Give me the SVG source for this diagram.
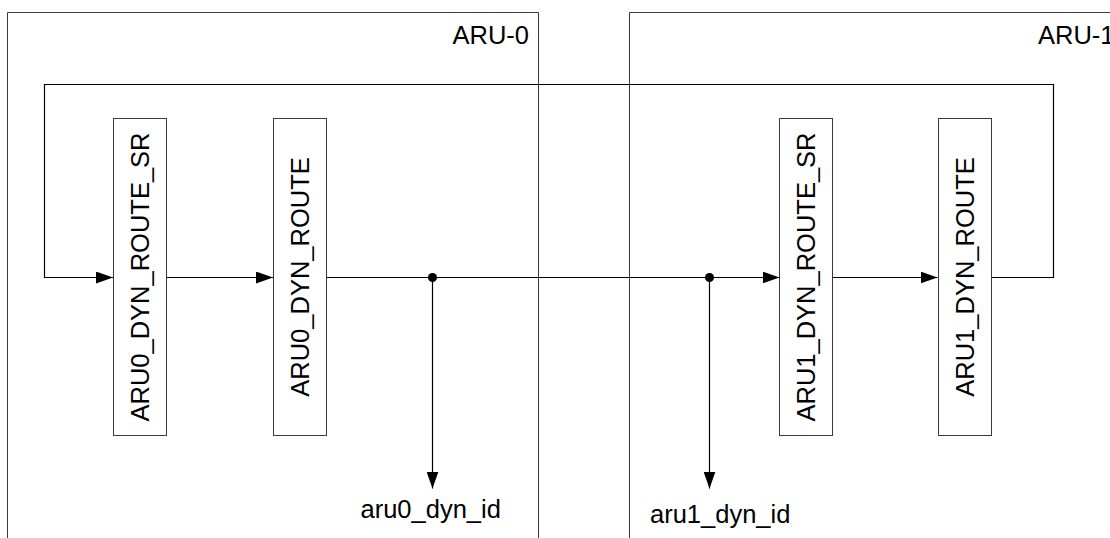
<svg xmlns="http://www.w3.org/2000/svg" width="1110" height="538" viewBox="0 0 1110 538">
  <style>
    .frame { fill: none; stroke: #3a3a3a; stroke-width: 1; }
    .blk { fill: #ffffff; stroke: #3a3a3a; stroke-width: 1; }
    .wire { fill: none; stroke: #000000; stroke-width: 1.2; }
    .lbl { font-family: "Liberation Sans", Arial, sans-serif; font-size: 25.5px; fill: #000000; }
    .vlbl { font-family: "Liberation Sans", Arial, sans-serif; font-size: 25.5px; fill: #000000; text-anchor: middle; }
  </style>
  <defs>
    <marker id="arrow" viewBox="0 0 17 12" refX="17" refY="6" markerWidth="17" markerHeight="12" markerUnits="userSpaceOnUse" orient="auto">
      <path d="M0,0 L17,6 L0,12 Z" fill="#000000"/>
    </marker>
  </defs>
  <rect width="1110" height="538" fill="#ffffff"/>

  <!-- unit frames, open at the bottom -->
  <g id="aru0">
    <path class="frame" d="M7.5,538 V12.5 H538.5 V538"/>
    <text class="lbl" x="529" y="44" text-anchor="end">ARU-0</text>
  </g>
  <g id="aru1">
    <path class="frame" d="M629.5,538 V12.5 H1112"/>
    <text class="lbl" x="1038" y="44">ARU-1</text>
  </g>

  <!-- connectors -->
  <g id="connectors">
    <path class="wire" d="M991.5,277.5 H1053.5 V84.5 H44.5 V277.5 H113" marker-end="url(#arrow)"/>
    <path class="wire" d="M166.5,277.5 H273" marker-end="url(#arrow)"/>
    <path class="wire" d="M326.5,277.5 H779.5" marker-end="url(#arrow)"/>
    <path class="wire" d="M832.5,277.5 H937.5" marker-end="url(#arrow)"/>
    <path class="wire" d="M432.5,277.5 V488.5" marker-end="url(#arrow)"/>
    <path class="wire" d="M709.5,277.5 V488.5" marker-end="url(#arrow)"/>
    <circle cx="432.5" cy="277.5" r="4.5" fill="#000000"/>
    <circle cx="709.5" cy="277.5" r="4.5" fill="#000000"/>
  </g>

  <!-- registers -->
  <g id="aru0_dyn_route_sr">
    <rect class="blk" x="113.5" y="118.5" width="53" height="317"/>
    <text class="vlbl" transform="translate(149,277) rotate(-90)">ARU0_DYN_ROUTE_SR</text>
  </g>
  <g id="aru0_dyn_route">
    <rect class="blk" x="273.5" y="118.5" width="53" height="317"/>
    <text class="vlbl" transform="translate(309,277) rotate(-90)">ARU0_DYN_ROUTE</text>
  </g>
  <g id="aru1_dyn_route_sr">
    <rect class="blk" x="779.5" y="118.5" width="53" height="317"/>
    <text class="vlbl" transform="translate(815,277) rotate(-90)">ARU1_DYN_ROUTE_SR</text>
  </g>
  <g id="aru1_dyn_route">
    <rect class="blk" x="938.5" y="118.5" width="53" height="317"/>
    <text class="vlbl" transform="translate(974,277) rotate(-90)">ARU1_DYN_ROUTE</text>
  </g>

  <!-- outputs -->
  <g id="aru0_dyn_id">
    <text class="lbl" x="360.5" y="518">aru0_dyn_id</text>
  </g>
  <g id="aru1_dyn_id">
    <text class="lbl" x="650" y="522.5">aru1_dyn_id</text>
  </g>
</svg>
